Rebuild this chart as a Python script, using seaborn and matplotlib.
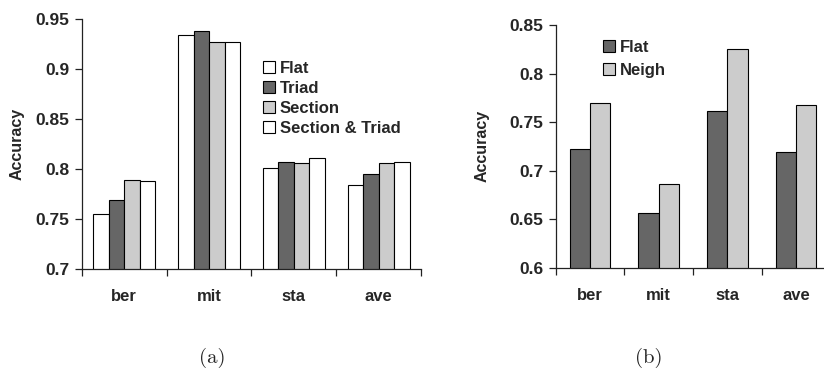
import matplotlib
matplotlib.use("Agg")
import matplotlib.pyplot as plt
from matplotlib.patches import Patch
import seaborn as sns
import pandas as pd

categories = ["ber", "mit", "sta", "ave"]

left_series = ["Flat", "Triad", "Section", "Section & Triad"]
left_flat = [0.755, 0.934, 0.801, 0.784]
left_triad = [0.769, 0.938, 0.807, 0.795]
left_section = [0.789, 0.927, 0.806, 0.806]
left_sect_triad = [0.788, 0.927, 0.811, 0.807]
left_colors = ["#ffffff", "#666666", "#cccccc", "#ffffff"]

right_series = ["Flat", "Neigh"]
right_flat = [0.722, 0.656, 0.761, 0.719]
right_neigh = [0.770, 0.686, 0.825, 0.768]
right_colors = ["#666666", "#cccccc"]

left_ticks = [0.7, 0.75, 0.8, 0.85, 0.9, 0.95]
left_ticklabels = ["0.7", "0.75", "0.8", "0.85", "0.9", "0.95"]
right_ticks = [0.6, 0.65, 0.7, 0.75, 0.8, 0.85]
right_ticklabels = ["0.6", "0.65", "0.7", "0.75", "0.8", "0.85"]

sns.set_theme(style="white")
plt.rcParams["font.family"] = ["Liberation Sans", "DejaVu Sans"]
plt.rcParams["font.weight"] = "bold"

W, H = 824, 368
fig = plt.figure(figsize=(W / 100, H / 100), dpi=100)


def px_axes(x0, x1, ytop, ybot):
    return fig.add_axes([x0 / W, (H - ybot) / H, (x1 - x0) / W, (ybot - ytop) / H])


def build_df(series_names, series_values):
    rows = []
    for name, vals in zip(series_names, series_values):
        for c, v in zip(categories, vals):
            rows.append({"cat": c, "series": name, "value": v})
    return pd.DataFrame(rows)


def style_axes(ax, ylim, ticks, ticklabels):
    ax.set_ylim(*ylim)
    ax.set_xlim(-0.5, len(categories) - 0.5)
    for s in ["top", "right"]:
        ax.spines[s].set_visible(False)
    for s in ["left", "bottom"]:
        ax.spines[s].set_color("#222222")
        ax.spines[s].set_linewidth(0.9)
    ax.set_yticks(ticks)
    ax.set_yticklabels(ticklabels, fontsize=12.5, fontweight="bold")
    ax.tick_params(axis="y", direction="out", length=5, width=0.9, color="#222222", left=True, pad=4)
    ax.set_xticks(range(len(categories)))
    ax.set_xticklabels(categories, fontsize=12, fontweight="bold")
    ax.set_xticks([i - 0.5 for i in range(len(categories) + 1)], minor=True)
    ax.tick_params(axis="x", which="major", length=0, pad=14.5)
    ax.tick_params(axis="x", which="minor", direction="out", length=5, width=0.9, color="#222222", bottom=True)
    ax.set_xlabel("")
    ax.set_ylabel("Accuracy", fontsize=11.5, fontweight="bold")
    ax.grid(False)
    leg = ax.get_legend()
    if leg is not None:
        leg.remove()


# Left panel
axL = px_axes(82, 421, 19, 269.3)
dfL = build_df(left_series, [left_flat, left_triad, left_section, left_sect_triad])
sns.barplot(data=dfL, x="cat", y="value", hue="series", hue_order=left_series,
            palette=left_colors, width=0.73, gap=0, edgecolor="black", linewidth=0.8,
            saturation=1, ax=axL, legend=False)
style_axes(axL, (0.7, 0.95), left_ticks, left_ticklabels)
axL.yaxis.set_label_coords(-0.168, 0.5)
handlesL = [Patch(facecolor=c, edgecolor="black", linewidth=0.8) for c in left_colors]
fig.legend(handlesL, left_series, loc="upper left",
           bbox_to_anchor=(263 / W, (H - 61) / H), frameon=False,
           prop={"weight": "bold", "size": 12}, handlelength=0.72, handleheight=0.72,
           handletextpad=0.3, labelspacing=0.3, borderpad=0, borderaxespad=0)

# Right panel
axR = px_axes(555.7, 830.5, 25, 267.7)
dfR = build_df(right_series, [right_flat, right_neigh])
sns.barplot(data=dfR, x="cat", y="value", hue="series", hue_order=right_series,
            palette=right_colors, width=0.59, gap=0, edgecolor="black", linewidth=0.8,
            saturation=1, ax=axR, legend=False)
style_axes(axR, (0.6, 0.85), right_ticks, right_ticklabels)
axR.yaxis.set_label_coords(-0.239, 0.5)
handlesR = [Patch(facecolor=c, edgecolor="black", linewidth=0.8) for c in right_colors]
fig.legend(handlesR, right_series, loc="upper left",
           bbox_to_anchor=(602.5 / W, (H - 39.5) / H), frameon=False,
           prop={"weight": "bold", "size": 12}, handlelength=0.72, handleheight=0.72,
           handletextpad=0.3, labelspacing=0.5, borderpad=0, borderaxespad=0)

# Captions
fig.text(212 / W, (H - 358) / H, "(a)", family=["cmr10", "DejaVu Serif"], fontsize=15,
         fontweight="normal", ha="center", va="center")
fig.text(649 / W, (H - 358) / H, "(b)", family=["cmr10", "DejaVu Serif"], fontsize=15,
         fontweight="normal", ha="center", va="center")

fig.savefig("out.png", dpi=100)
